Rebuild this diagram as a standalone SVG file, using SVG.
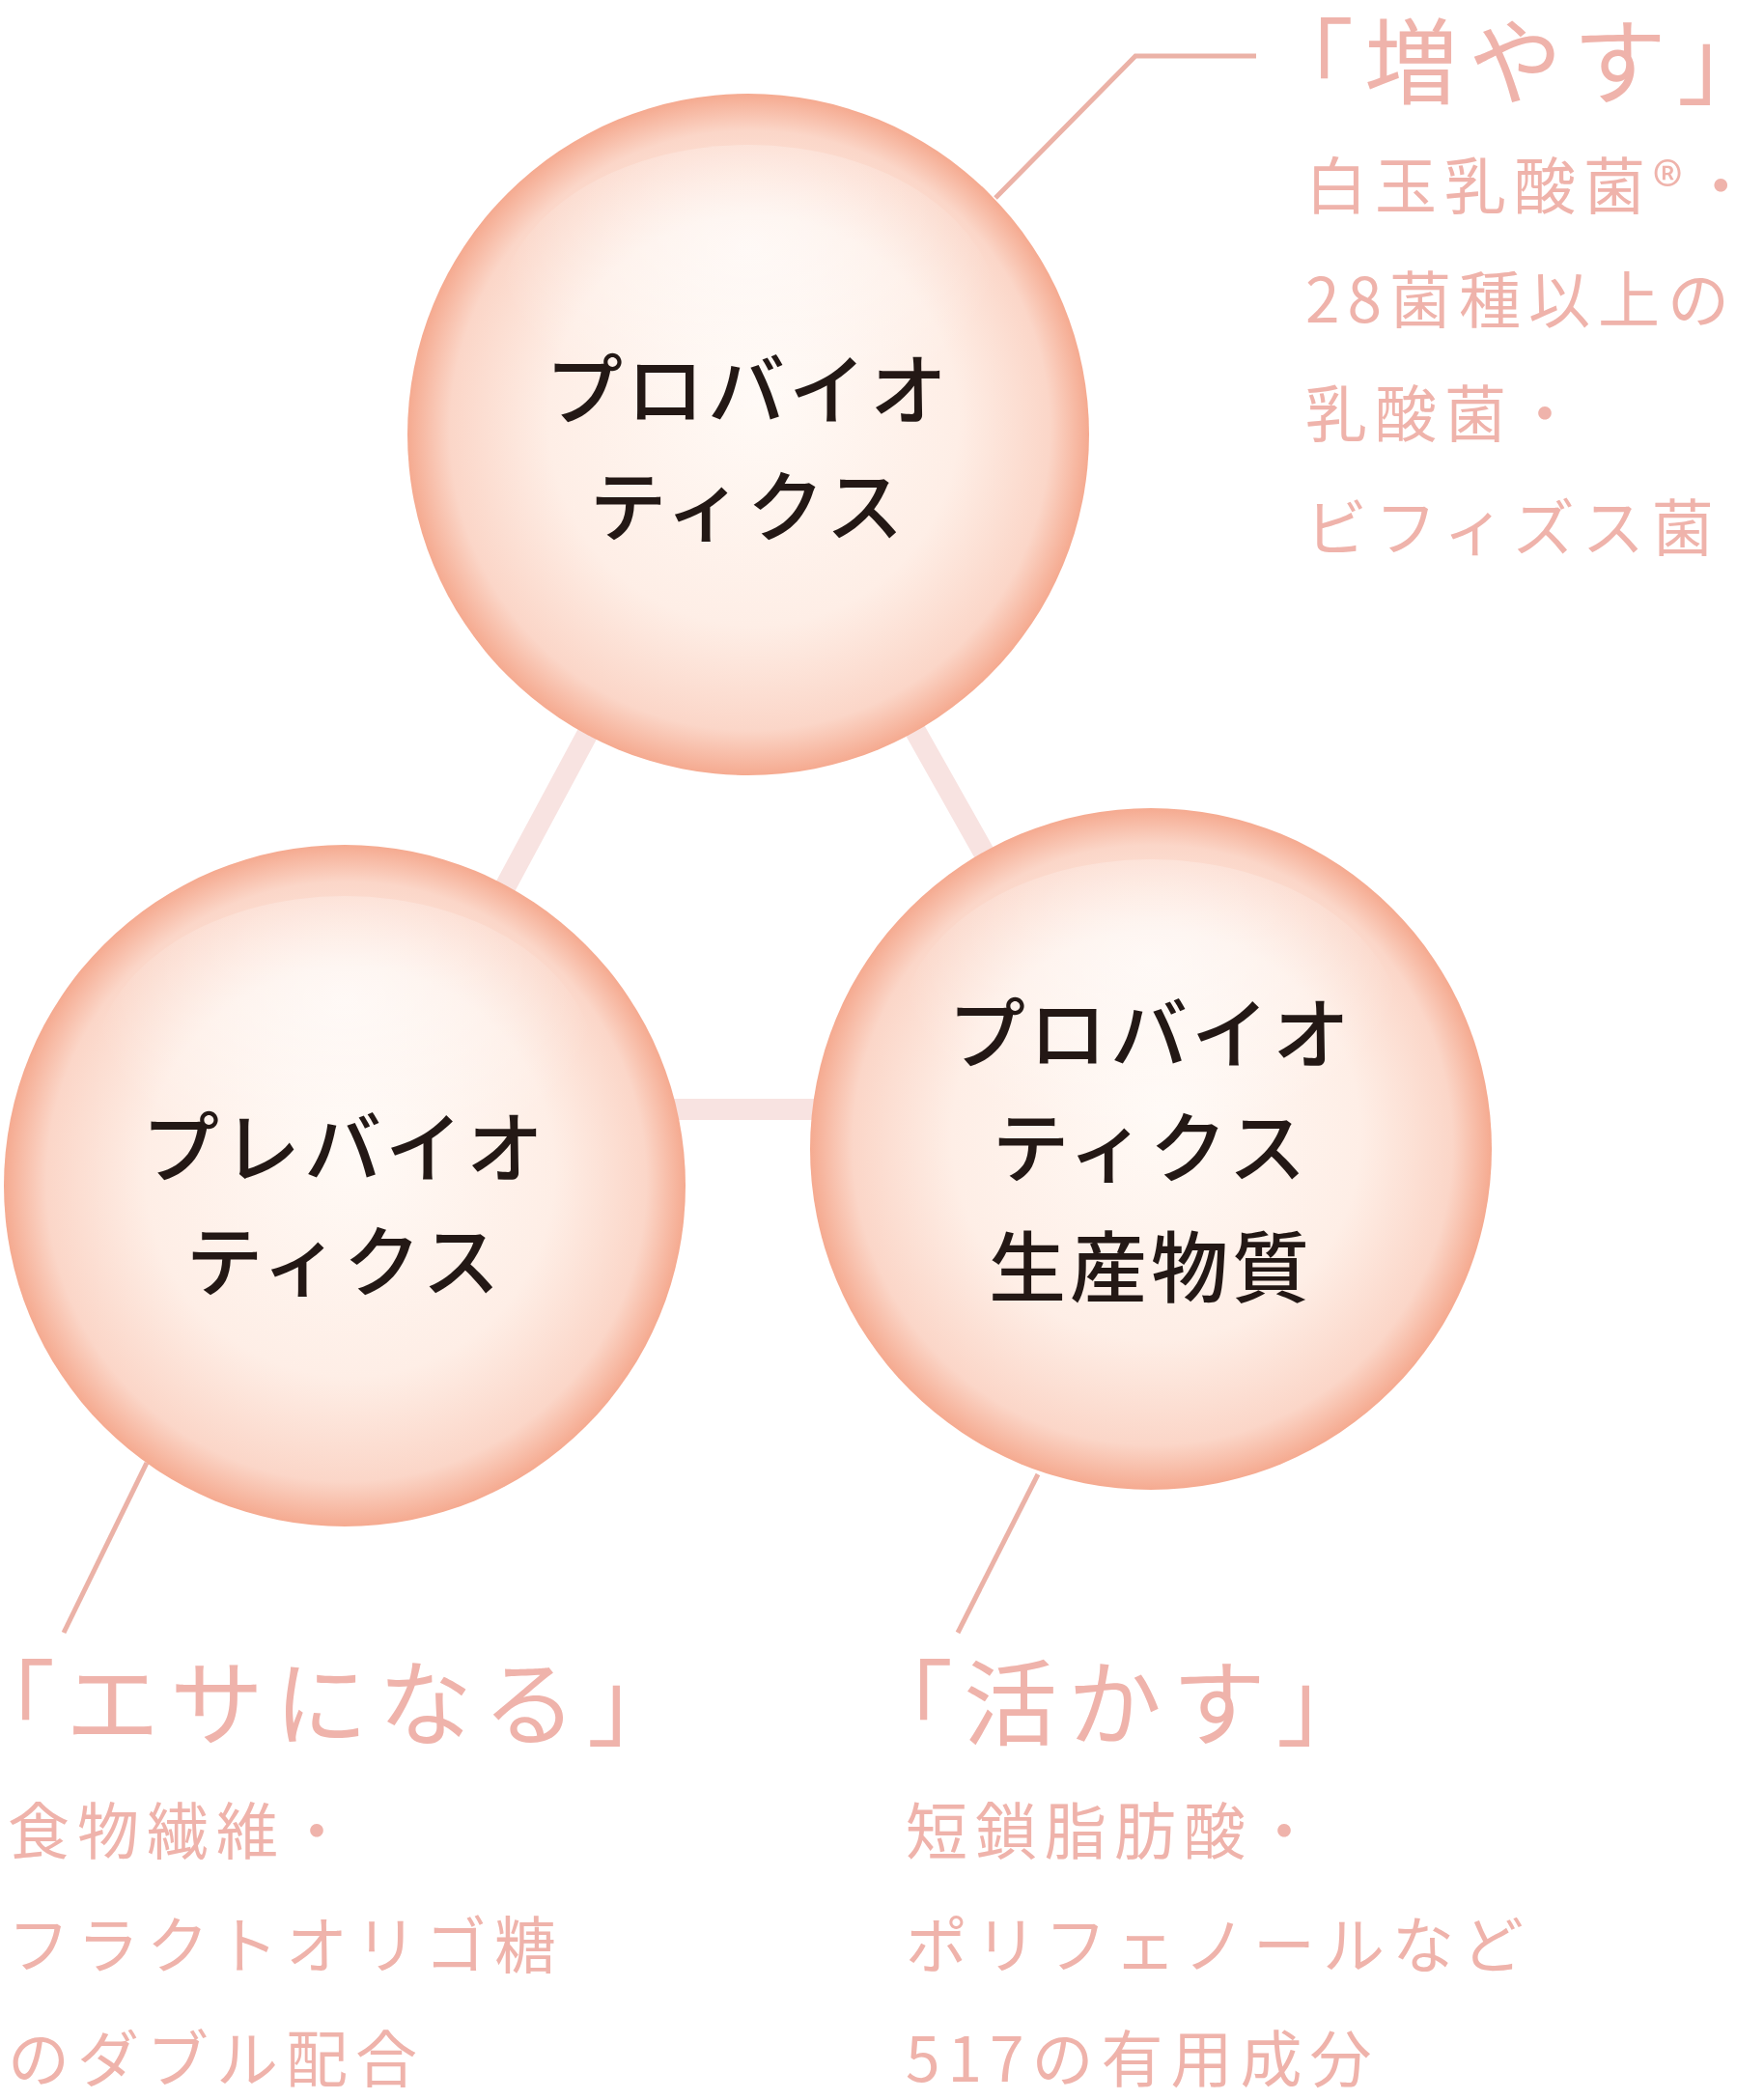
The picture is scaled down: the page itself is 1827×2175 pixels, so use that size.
<svg xmlns="http://www.w3.org/2000/svg" width="1827" height="2175" viewBox="0 0 1827 2175">
<defs>
<radialGradient id="g" cx="50%" cy="50%" r="50%" fx="52%" fy="45%">
<stop offset="0" stop-color="#fffaf6"/>
<stop offset="0.6" stop-color="#feeee6"/>
<stop offset="0.88" stop-color="#fbd6c8"/>
<stop offset="1" stop-color="#f5aa90"/>
</radialGradient>
<radialGradient id="h" cx="50%" cy="30%" r="50%">
<stop offset="0" stop-color="#ffffff" stop-opacity="0.6"/>
<stop offset="1" stop-color="#ffffff" stop-opacity="0"/>
</radialGradient>
</defs>
<style>
.c{font-family:"Noto Sans CJK JP",sans-serif;font-weight:500;font-size:80px;fill:#231815;text-anchor:middle;letter-spacing:4px}
.h{font-family:"Noto Sans CJK JP",sans-serif;font-size:97px;fill:#efb3ab;letter-spacing:11px}
.t{font-family:"Noto Sans CJK JP",sans-serif;font-size:64px;fill:#efb3ab;letter-spacing:8px}
.tri{stroke:#f8e3e1;stroke-width:22;fill:none}
.ln{stroke:#ebb2a7;stroke-width:5;fill:none}
</style>
<g id="connectors">
<line class="tri" x1="775" y1="450" x2="357" y2="1228"/>
<line class="tri" x1="775" y1="450" x2="1192" y2="1190"/>
<line class="tri" x1="357" y1="1149" x2="1192" y2="1149"/>
<polyline class="ln" points="1031,205 1176,58 1301,58"/>
<line class="ln" x1="152" y1="1515" x2="66" y2="1691"/>
<line class="ln" x1="1075" y1="1527" x2="992" y2="1691"/>
</g>
<g id="top"><circle cx="775" cy="450" r="353" fill="url(#g)"/><ellipse cx="775" cy="330" rx="260" ry="180" fill="url(#h)"/>
<text class="c" x="775" y="433">プロバイオ</text><text class="c" x="775" y="554">ティクス</text></g>
<g id="left"><circle cx="357" cy="1228" r="353" fill="url(#g)"/><ellipse cx="357" cy="1108" rx="260" ry="180" fill="url(#h)"/>
<text class="c" x="357" y="1218">プレバイオ</text><text class="c" x="357" y="1336">ティクス</text></g>
<g id="right"><circle cx="1192" cy="1190" r="353" fill="url(#g)"/><ellipse cx="1192" cy="1070" rx="260" ry="180" fill="url(#h)"/>
<text class="c" x="1192" y="1100">プロバイオ</text><text class="c" x="1192" y="1218">ティクス</text><text class="c" x="1192" y="1342">生産物質</text></g>
<g id="label-top"><text class="h" x="1305" y="100">「増やす」</text>
<text class="t" x="1352" y="216">白玉乳酸菌®・</text><text class="t" x="1352" y="334">28菌種以上の</text><text class="t" x="1352" y="452">乳酸菌・</text><text class="t" x="1352" y="570">ビフィズス菌</text></g>
<g id="label-left"><text class="h" x="-40" y="1800">「エサになる」</text>
<text class="t" x="8" y="1920">食物繊維・</text><text class="t" x="8" y="2038">フラクトオリゴ糖</text><text class="t" x="8" y="2156">のダブル配合</text></g>
<g id="label-right"><text class="h" x="890" y="1800">「活かす」</text>
<text class="t" x="938" y="1920">短鎖脂肪酸・</text><text class="t" x="938" y="2038">ポリフェノールなど</text><text class="t" x="938" y="2156">517の有用成分</text></g>
</svg>
